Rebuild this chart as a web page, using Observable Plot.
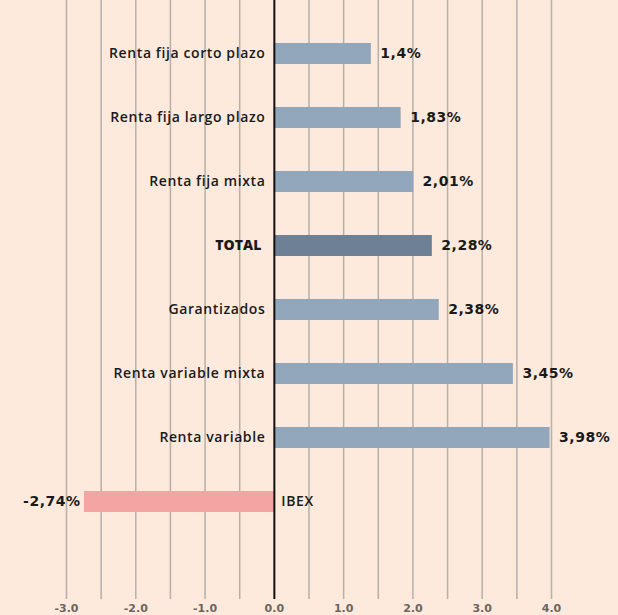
<!DOCTYPE html>
<html>
<head>
<meta charset="utf-8">
<script src="https://cdn.jsdelivr.net/npm/d3@7"></script>
<script src="https://cdn.jsdelivr.net/npm/@observablehq/plot@0.6"></script>
<style>
  html, body { margin: 0; padding: 0; background: #fdeadc; }
  #chart svg { display: block; }
  .val text { letter-spacing: 0.5px; }
  .cat text { letter-spacing: 0.6px; }
</style>
</head>
<body>
<div id="chart"></div>
<script>
const categories = ["Renta fija corto plazo", "Renta fija largo plazo", "Renta fija mixta", "TOTAL", "Garantizados", "Renta variable mixta", "Renta variable", "IBEX"];
const values = [1.4, 1.83, 2.01, 2.28, 2.38, 3.45, 3.98, -2.74];
const valueLabels = ["1,4%", "1,83%", "2,01%", "2,28%", "2,38%", "3,45%", "3,98%", "-2,74%"];
const barColors = ["#93a7bc", "#93a7bc", "#93a7bc", "#6e8096", "#93a7bc", "#93a7bc", "#93a7bc", "#f3a4a3"];
const gridValues = [-3, -2.5, -2, -1.5, -1, -0.5, 0.5, 1, 1.5, 2, 2.5, 3, 3.5, 4];
const tickValues = [-3, -2, -1, 0, 1, 2, 3, 4];

const data = categories.map((c, i) => ({category: c, value: values[i], label: valueLabels[i], color: barColors[i], total: c === "TOTAL"}));

const catFont = "'Open Sans', 'Noto Sans', sans-serif";
const valFont = "'DejaVu Sans', sans-serif";

const chart = Plot.plot({
  width: 618,
  height: 615,
  marginLeft: 66,
  marginRight: 67,
  marginTop: 0,
  marginBottom: 16,
  style: {background: "#fdeadc", overflow: "visible"},
  x: {domain: [-3, 4], label: null},
  y: {domain: categories, paddingInner: 0.67, paddingOuter: 1.0, align: 0.33, axis: null},
  marks: [
    Plot.ruleX(gridValues, {stroke: "#b7afa8", strokeWidth: 1.5}),
    Plot.barX(data, {x: "value", y: "category", fill: "color"}),
    Plot.ruleX([0], {stroke: "#111", strokeWidth: 2}),
    Plot.axisX({ticks: tickValues, tickFormat: d => d.toFixed(1), tickSize: 0, tickPadding: 5, fontSize: 11, fontFamily: valFont, fontWeight: 700, fill: "#6b6560", label: null}),
    Plot.text(data, {filter: d => d.value >= 0 && !d.total, x: 0, y: "category", text: "category", textAnchor: "end", dx: -9, fontSize: 14, fontFamily: catFont, fontWeight: 600, fill: "#1a1a1a", className: "cat"}),
    Plot.text(data, {filter: d => d.total, x: 0, y: "category", text: "category", textAnchor: "end", dx: -13, fontSize: 14, fontFamily: catFont, fontWeight: 800, fill: "#1a1a1a"}),
    Plot.text(data, {filter: d => d.value < 0, x: 0, y: "category", text: "category", textAnchor: "start", dx: 7, fontSize: 14, fontFamily: catFont, fontWeight: 600, fill: "#1a1a1a", className: "cat"}),
    Plot.text(data, {filter: d => d.value >= 0, x: "value", y: "category", text: "label", textAnchor: "start", dx: 9, fontSize: 14, fontFamily: valFont, fontWeight: 700, fill: "#1a1a1a", className: "val"}),
    Plot.text(data, {filter: d => d.value < 0, x: "value", y: "category", text: "label", textAnchor: "end", dx: -4, fontSize: 14, fontFamily: valFont, fontWeight: 700, fill: "#1a1a1a", className: "val"})
  ]
});
document.getElementById("chart").appendChild(chart);
</script>
</body>
</html>
